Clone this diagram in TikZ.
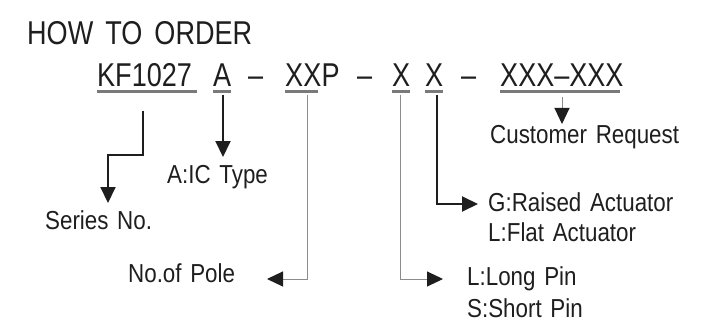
\documentclass[tikz,border=0pt]{standalone}
\usepackage{fontspec}
\newfontfamily\cadtitle{Liberation Sans}[FakeStretch=0.82,WordSpace=1.6]
\newfontfamily\cadlabel{Liberation Sans}[FakeStretch=0.86,WordSpace=1.4]
\usetikzlibrary{arrows.meta}
\definecolor{ink}{HTML}{1E1E1E}
\definecolor{ulgray}{HTML}{7A7A7A}
\definecolor{thingray}{HTML}{8C8C8C}
\tikzset{
  ttl/.style={inner sep=0pt, anchor=base west, text=ink, font=\cadtitle\fontsize{33}{36}\selectfont},
  lbl/.style={inner sep=0pt, anchor=base west, text=ink, font=\cadlabel\fontsize{26}{30}\selectfont, align=left},
  uline/.style={draw=ulgray, line width=3pt},
  thickconn/.style={draw=ink, line width=2pt, -{Triangle[length=16pt,width=15pt,color=ink]}},
  thinconn/.style={draw=thingray, line width=1pt, -{Triangle[length=16pt,width=15pt,color=ink]}},
}
\begin{document}
\begin{tikzpicture}[x=1pt,y=-1pt]
\useasboundingbox (0,0) rectangle (705,329);
% title
\node[ttl] (title) at (27,45) {HOW TO ORDER};
% code line
\node[ttl] (kf) at (97,87) {KF1027};
\node[ttl] (a) at (213,87) {A};
\node[ttl] (d1) at (248,87) {–};
\node[ttl] (xx) at (285,87) {XX};
\node[ttl, anchor=base west] (p) at (xx.base east) {P};
\node[ttl] (d2) at (357,87) {–};
\node[ttl] (x1) at (392,87) {X};
\node[ttl] (x2) at (425,87) {X};
\node[ttl] (d3) at (461,87) {–};
\node[ttl] (xxx) at (500,87) {XXX–XXX};
% underlines
\draw[uline] (97,92) -- (197,92);
\draw[uline] (213,92) -- (231,92);
\draw[uline] (285,92) -- (318,92);
\draw[uline] (392,92) -- (410,92);
\draw[uline] (425,92) -- (443,92);
\draw[uline] (500,92) -- (620,92);
% labels
\node[lbl] (series) at (45,229) {Series No.};
\node[lbl] (ictype) at (167,183) {A:IC Type};
\node[lbl] (pole) at (128,282) {No.of Pole};
\node[lbl] (pin1) at (467,285) {L:Long Pin};
\node[lbl] (pin2) at (467,317) {S:Short Pin};
\node[lbl] (act1) at (488,211) {G:Raised Actuator};
\node[lbl] (act2) at (488,241) {L:Flat Actuator};
\node[lbl] (cust) at (490,143) {Customer Request};
% connector coordinates
\coordinate (kfs) at (143,111);
\coordinate (kfb) at (143,155);
\coordinate (sert) at (108,203);
\coordinate (as) at (223,95);
\coordinate (at) at (223,157);
\coordinate (xxs) at (307,95);
\coordinate (xxb) at (307,279);
\coordinate (polet) at (267,279);
\coordinate (x1s) at (400,95);
\coordinate (x1b) at (400,279);
\coordinate (pint) at (443,279);
\coordinate (x2s) at (437,95);
\coordinate (x2b) at (437,204);
\coordinate (actt) at (478,204);
\coordinate (cs) at (562,97);
\coordinate (ct) at (562,124);
% connectors
\draw[thickconn] (kfs) -- (kfb) -| (sert);
\draw[thickconn] (as) -- (at);
\draw[thinconn] (xxs) -- (xxb) -- (polet);
\draw[thinconn] (x1s) -- (x1b) -- (pint);
\draw[thickconn] (x2s) -- (x2b) -- (actt);
\draw[thinconn] (cs) -- (ct);
\end{tikzpicture}
\end{document}
